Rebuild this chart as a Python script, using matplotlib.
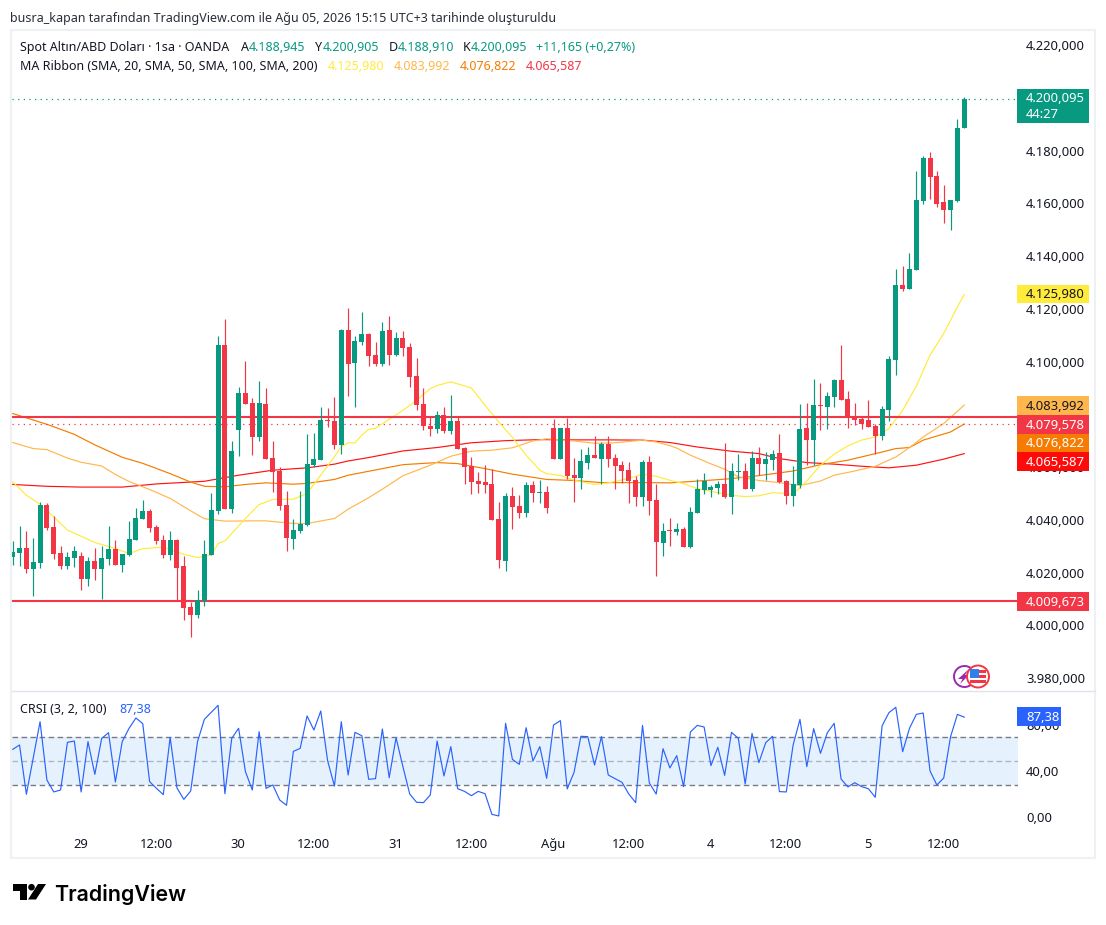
import matplotlib
matplotlib.use("Agg")
import matplotlib.pyplot as plt
import numpy as np
from matplotlib.patches import Circle, Polygon, Rectangle
from matplotlib.transforms import Affine2D, ScaledTranslation

W, H = 1106, 925
FONT = "Noto Sans"

# hourly candles
bar_open = [
    4026.5, 4028.0, 4029.8, 4021.9, 4024.2, 4046.0, 4037.7, 4027.9, 4022.9, 4026.0,
    4026.7, 4018.0, 4024.8, 4021.8, 4025.6, 4029.4, 4023.3, 4027.1, 4032.8, 4040.7,
    4043.8, 4037.7, 4032.8, 4027.1, 4032.8, 4022.9, 4007.4, 4004.4, 4009.7, 4027.1,
    4043.8, 4106.7, 4044.5, 4074.5, 4088.5, 4084.7, 4071.8, 4084.3, 4063.8, 4058.9,
    4046.0, 4033.2, 4036.2, 4038.5, 4061.2, 4063.1, 4078.2, 4077.9, 4068.8, 4112.3,
    4099.8, 4107.8, 4110.8, 4102.9, 4099.5, 4112.3, 4102.9, 4109.3, 4105.9, 4094.9,
    4084.3, 4076.0, 4074.8, 4080.1, 4074.1, 4077.9, 4067.6, 4060.8, 4055.1, 4054.8,
    4054.0, 4040.7, 4024.8, 4049.5, 4045.7, 4043.0, 4053.6, 4050.6, 4051.0, 4075.2,
    4063.5, 4075.2, 4057.4, 4056.3, 4061.9, 4065.0, 4063.5, 4069.1, 4063.8, 4061.2,
    4059.3, 4055.5, 4049.1, 4062.3, 4047.9, 4031.7, 4036.6, 4035.8, 4036.9, 4030.2,
    4043.0, 4051.7, 4051.7, 4052.5, 4054.0, 4049.1, 4058.5, 4058.9, 4052.1, 4063.8,
    4061.6, 4063.1, 4065.7, 4055.1, 4049.4, 4053.6, 4075.2, 4070.7, 4083.9, 4083.2,
    4087.0, 4093.4, 4086.2, 4079.8, 4078.6, 4078.2, 4076.0, 4072.2, 4082.0, 4101.0,
    4129.4, 4127.9, 4135.1, 4161.2, 4177.5, 4170.7, 4160.8, 4157.8, 4161.2, 4188.945,
]
bar_high = [
    4032.5, 4038.1, 4036.2, 4033.6, 4047.2, 4046.8, 4041.9, 4030.5, 4028.2, 4030.5,
    4028.2, 4026.4, 4029.8, 4030.5, 4038.1, 4032.8, 4027.5, 4040.0, 4044.9, 4047.9,
    4044.5, 4038.5, 4034.7, 4036.2, 4033.2, 4026.7, 4009.3, 4013.9, 4032.8, 4050.6,
    4110.1, 4116.5, 4070.3, 4090.7, 4100.6, 4086.6, 4093.0, 4090.4, 4070.3, 4060.4,
    4051.4, 4040.7, 4051.4, 4072.9, 4073.3, 4083.2, 4082.8, 4087.0, 4112.7, 4120.7,
    4110.1, 4119.2, 4111.2, 4107.8, 4115.4, 4117.6, 4111.6, 4112.0, 4107.4, 4101.7,
    4090.4, 4079.8, 4081.7, 4083.2, 4087.7, 4079.8, 4068.0, 4064.2, 4058.5, 4061.2,
    4059.7, 4047.2, 4050.6, 4052.9, 4049.8, 4054.8, 4055.1, 4055.5, 4053.2, 4078.6,
    4075.2, 4079.0, 4063.8, 4067.3, 4068.0, 4072.2, 4069.9, 4072.2, 4065.4, 4062.7,
    4062.3, 4057.0, 4063.1, 4064.6, 4054.0, 4039.2, 4041.1, 4039.2, 4037.7, 4045.3,
    4055.9, 4058.2, 4053.6, 4055.1, 4069.5, 4061.9, 4065.4, 4061.9, 4066.5, 4068.0,
    4066.1, 4066.9, 4072.9, 4055.5, 4060.8, 4084.4, 4084.7, 4093.8, 4092.3, 4088.8,
    4093.8, 4106.6, 4089.2, 4084.7, 4079.8, 4085.8, 4077.0, 4083.6, 4102.5, 4135.4,
    4136.6, 4141.5, 4172.9, 4178.6, 4179.8, 4172.6, 4167.3, 4161.6, 4192.6, 4200.905,
]
bar_low = [
    4023.3, 4023.1, 4020.4, 4011.7, 4022.3, 4036.7, 4025.6, 4021.9, 4021.9, 4022.6,
    4013.9, 4015.4, 4017.6, 4010.4, 4023.3, 4023.3, 4020.7, 4026.7, 4032.8, 4040.7,
    4035.8, 4031.3, 4026.0, 4025.2, 4010.1, 4002.5, 3996.1, 4003.2, 4007.8, 4027.1,
    4042.6, 4044.5, 4043.0, 4064.6, 4084.3, 4065.0, 4070.3, 4063.5, 4051.0, 4044.2,
    4028.6, 4029.4, 4035.4, 4038.1, 4060.4, 4063.1, 4075.6, 4067.3, 4065.4, 4087.3,
    4083.2, 4106.7, 4098.7, 4098.7, 4098.7, 4099.1, 4102.5, 4102.5, 4090.7, 4082.0,
    4074.5, 4072.2, 4073.3, 4073.3, 4072.9, 4067.3, 4054.0, 4050.2, 4050.6, 4050.6,
    4040.4, 4022.2, 4021.0, 4037.0, 4041.1, 4041.5, 4047.2, 4046.8, 4043.0, 4063.5,
    4063.5, 4055.9, 4047.2, 4052.1, 4059.7, 4063.8, 4054.0, 4060.4, 4052.1, 4054.4,
    4046.8, 4045.7, 4045.7, 4042.3, 4019.1, 4026.7, 4030.5, 4034.7, 4030.2, 4029.8,
    4043.0, 4050.2, 4049.1, 4050.2, 4048.7, 4042.6, 4055.5, 4052.1, 4051.3, 4057.4,
    4055.5, 4059.3, 4054.4, 4046.4, 4045.7, 4052.5, 4061.2, 4061.2, 4074.5, 4074.8,
    4083.2, 4085.8, 4075.2, 4076.3, 4074.8, 4075.6, 4065.4, 4070.7, 4077.9, 4095.3,
    4127.1, 4127.9, 4135.1, 4160.4, 4162.3, 4158.9, 4153.2, 4150.2, 4160.8, 4188.91,
]
bar_close = [
    4028.2, 4029.8, 4021.9, 4024.5, 4046.0, 4037.3, 4027.5, 4022.9, 4026.4, 4028.6,
    4018.0, 4024.8, 4021.8, 4026.0, 4029.4, 4023.3, 4027.5, 4033.2, 4041.1, 4043.8,
    4037.3, 4032.4, 4027.1, 4032.8, 4022.2, 4007.0, 4004.4, 4010.1, 4027.5, 4044.2,
    4106.7, 4044.5, 4066.5, 4088.5, 4084.3, 4071.8, 4084.7, 4063.5, 4058.5, 4045.7,
    4033.6, 4036.6, 4038.9, 4061.6, 4063.5, 4078.2, 4077.9, 4068.8, 4112.3, 4099.5,
    4108.2, 4110.8, 4102.5, 4099.5, 4112.0, 4102.9, 4109.3, 4105.5, 4094.5, 4083.9,
    4076.0, 4074.8, 4080.1, 4074.1, 4077.9, 4067.3, 4060.4, 4054.8, 4054.0, 4053.6,
    4040.4, 4025.2, 4049.5, 4045.3, 4043.0, 4053.6, 4050.6, 4051.0, 4044.9, 4063.5,
    4075.2, 4057.0, 4056.3, 4062.7, 4065.0, 4063.8, 4069.1, 4063.5, 4060.8, 4058.9,
    4055.1, 4049.1, 4062.3, 4047.6, 4032.0, 4036.2, 4036.2, 4037.0, 4030.2, 4043.4,
    4052.1, 4055.1, 4052.9, 4054.0, 4049.1, 4058.9, 4058.9, 4052.1, 4063.8, 4061.6,
    4063.5, 4065.4, 4054.8, 4049.4, 4054.0, 4074.8, 4070.7, 4083.9, 4083.6, 4087.3,
    4093.4, 4085.8, 4079.8, 4078.2, 4076.7, 4075.6, 4072.2, 4082.4, 4101.3, 4129.4,
    4127.9, 4135.4, 4161.6, 4177.5, 4170.3, 4160.1, 4157.8, 4161.6, 4188.9, 4200.095,
]

# MA Ribbon lines, sampled where the curves bend
ma20_bars = [0, 2, 4, 6, 8, 12, 15, 17, 19, 22, 25, 27, 29, 30, 31, 34, 36, 38, 41, 43, 46, 48, 49,
             50, 51, 52, 53, 55, 57, 59, 61, 62, 64, 67, 69, 71, 73, 75, 77, 78, 80, 82, 85, 87, 90,
             92, 94, 96, 98, 100, 103, 105, 107, 109, 111, 113, 114, 116, 118, 120, 122, 124, 126,
             128, 130, 132, 134, 136, 138, 139]
ma20 = [4054.9, 4049.8, 4046.4, 4041.6, 4036.6, 4031.9, 4029.6, 4027.7, 4029.6, 4030.1, 4027.4, 4026.2,
        4027.1, 4031.5, 4032.5, 4041.0, 4046.3, 4048.2, 4048.3, 4050.5, 4060.9, 4068.1, 4069.7,
        4069.7, 4072.6, 4074.8, 4075.2, 4078.6, 4082.0, 4085.8, 4090.2, 4091.4, 4092.8, 4090.5, 4083.9,
        4077.6, 4071.7, 4065.0, 4059.3, 4058.0, 4057.3, 4055.5, 4053.9, 4054.5, 4056.2,
        4057.8, 4057.0, 4055.5, 4054.2, 4052.3, 4050.8, 4049.8, 4049.3, 4049.6, 4050.8, 4050.4, 4050.2,
        4055.2, 4061.2, 4065.4, 4068.5, 4070.7, 4071.9, 4075.1, 4082.0, 4091.2, 4102.9, 4111.1, 4121.2,
        4125.98]
ma50_bars = [0, 3, 5, 8, 10, 13, 15, 17, 20, 23, 26, 28, 31, 35, 37, 41, 43, 47, 49, 52, 54, 57, 61,
             64, 67, 70, 73, 76, 78, 82, 85, 88, 92, 94, 96, 97, 99, 102, 104, 106, 109, 112, 115,
             118, 120, 123, 126, 129, 131, 133, 136, 139]
ma50 = [4069.8, 4067.5, 4067.1, 4063.9, 4062.3, 4060.9, 4057.7, 4055.0, 4052.0, 4048.6, 4043.9, 4040.9,
        4040.0, 4040.1, 4040.1, 4039.1, 4039.1, 4041.0, 4044.5, 4048.9, 4052.1, 4057.2, 4061.2,
        4064.6, 4066.5, 4066.9, 4067.8, 4070.4, 4071.2, 4070.4, 4069.5, 4069.7, 4070.7, 4070.0, 4068.6,
        4067.7, 4065.0, 4061.7, 4059.7, 4056.8, 4055.4, 4054.6, 4053.5, 4055.2, 4057.4, 4059.0, 4060.8,
        4064.3, 4067.9, 4071.9, 4077.0, 4083.992]
ma100_bars = [0, 5, 9, 12, 16, 19, 23, 26, 28, 31, 34, 37, 41, 43, 47, 49, 52, 54, 57, 62, 65, 69, 73,
              78, 82, 86, 92, 96, 99, 104, 108, 114, 118, 122, 127, 129, 131, 133, 137, 139]
ma100 = [4080.8, 4076.7, 4072.9, 4068.9, 4064.2, 4061.9, 4058.0, 4054.8, 4053.2, 4053.0, 4053.9, 4054.5,
         4054.0, 4054.3, 4055.8, 4057.4, 4058.9, 4059.9, 4061.4, 4062.2, 4061.8, 4059.9, 4057.8,
         4055.8, 4055.4, 4054.6, 4054.6, 4054.5, 4055.0, 4055.9, 4056.9, 4059.0, 4061.4, 4063.1,
         4066.2, 4067.5, 4067.9, 4070.7, 4073.8, 4076.822]
ma200_bars = [0, 5, 10, 16, 21, 28, 33, 38, 43, 47, 49, 52, 57, 62, 67, 72, 77, 82, 87, 92, 96, 100,
              105, 109, 112, 116, 120, 124, 128, 132, 136, 139]
ma200 = [4053.9, 4053.2, 4052.9, 4052.9, 4054.1, 4055.1, 4057.4, 4059.3, 4060.2, 4061.6, 4062.8, 4064.1,
         4066.6, 4067.9, 4069.7, 4070.5, 4070.9, 4070.8, 4070.8, 4070.7, 4069.8, 4068.1,
         4066.5, 4065.6, 4063.7, 4062.2, 4061.6, 4060.8, 4060.2, 4061.2, 4063.5, 4065.587]

crsi = [
    59.6, 63.4, 20.9, 52.2, 83.5, 33.2, 22.9, 24.6, 65.7, 66.8,
    22.9, 66.3, 38.1, 69.1, 74.0, 31.5, 66.3, 77.8, 86.7, 81.8,
    31.8, 26.0, 20.6, 70.0, 26.3, 16.5, 23.7, 66.3, 85.5, 91.5,
    97.6, 21.4, 69.1, 77.8, 40.4, 24.6, 74.9, 26.0, 28.9, 16.0,
    11.4, 57.9, 60.5, 88.4, 76.3, 92.7, 49.9, 28.0, 83.5, 37.5,
    74.3, 71.4, 33.8, 34.4, 77.2, 35.2, 69.7, 44.7, 21.1, 14.0,
    13.7, 20.3, 66.8, 36.7, 62.0, 25.7, 23.4, 19.7, 23.4, 21.4,
    3.6, 2.2, 82.1, 51.0, 46.7, 78.3, 49.6, 62.0, 34.7, 80.6,
    84.4, 25.5, 39.8, 70.9, 70.6, 46.1, 70.6, 37.5, 34.4, 31.2,
    21.1, 13.7, 80.3, 30.6, 21.1, 60.2, 43.6, 54.2, 27.5, 74.6,
    80.3, 78.9, 45.6, 61.4, 37.2, 74.3, 69.1, 29.8, 73.4, 48.2,
    65.4, 70.9, 23.2, 22.9, 63.4, 85.5, 44.7, 77.5, 56.2, 74.0,
    82.1, 34.1, 27.2, 30.9, 27.5, 25.7, 18.3, 80.0, 91.3, 95.9,
    57.6, 77.8, 89.8, 91.0, 41.0, 28.9, 34.9, 70.6, 89.8, 87.38,
]

support = 4009.673
resistance = 4079.578
last_price = 4200.095
prev_line = 4076.9

price_ticks = list(range(3980, 4221, 20))
time_bars = [10, 21, 33, 44, 56, 67, 79, 90, 102, 113, 125, 136]
time_labels = ["29", "12:00", "30", "12:00", "31", "12:00", "Ağu", "12:00", "4", "12:00", "5", "12:00"]

GREEN = "#089981"
RED = "#F23645"
INK = "#131722"
AXIS_SIZE = 9.35
TEXT_SIZE = 9.0

plt.rcParams["font.family"] = FONT
fig = plt.figure(figsize=(W / 100, H / 100), dpi=100, facecolor="white")
# pixel coordinates measured from the top left, like the screenshot
px = Affine2D().scale(1, -1).translate(0, H)
up_1px = ScaledTranslation(0, 1.2 / 100, fig.dpi_scale_trans)


def pane(left, top, right, bottom):
    return fig.add_axes([left / W, 1 - bottom / H, (right - left) / W, (bottom - top) / H])


def fmt_price(v):
    return f"{int(v) // 1000}.{int(v) % 1000:03d},{f'{v:.3f}'[-3:]}"


# main pane
ax = pane(12, 31, 1018, 691)
ax.set_xlim(-0.1, 146.85)
ax.set_ylim(3975.6, 4225.8)
ax.set_xticks([])
ax.set_yticks(price_ticks)
ax.set_yticklabels([f"{t // 1000}.{t % 1000:03d},000" for t in price_ticks])
ax.yaxis.tick_right()
ax.tick_params(axis="y", length=0, pad=5.8, labelsize=AXIS_SIZE, labelcolor=INK)
for s in ax.spines.values():
    s.set_visible(False)

x = np.arange(len(bar_open))
o = np.array(bar_open)
h = np.array(bar_high)
l = np.array(bar_low)
c = np.array(bar_close)
cols = [GREEN if b >= a else RED for a, b in zip(o, c)]

ax.plot(ma200_bars, ma200, color="#FF1111", lw=0.85, zorder=2)
ax.plot(ma100_bars, ma100, color="#F57C00", lw=0.85, zorder=2)
ax.plot(ma50_bars, ma50, color="#FFB74D", lw=0.85, zorder=2)
ax.plot(ma20_bars, ma20, color="#FFEB3B", lw=0.85, zorder=2)

ax.axhline(resistance, color=RED, lw=1.5, zorder=2.2)
ax.axhline(support, color=RED, lw=1.5, zorder=2.2)
ax.axhline(last_price, color=GREEN, lw=0.9, ls=(0, (1, 3.5)), zorder=2.2)
ax.axhline(prev_line, color=RED, lw=0.9, ls=(0, (1, 3.5)), zorder=2.2)

ax.vlines(x, l, h, colors=cols, lw=0.85, zorder=3)
ax.bar(x, np.maximum(np.abs(c - o), 0.4), bottom=np.minimum(o, c), width=0.73, color=cols, lw=0, zorder=3.1)

# CRSI pane
ax2 = pane(12, 692, 1018, 825)
ax2.set_xlim(-0.1, 146.85)
ax2.set_ylim(-5.6, 109.1)
ax2.axhspan(29, 70, color="#E5F2FD", lw=0)
ax2.axhline(70, color="#787B86", lw=1.0, ls=(0, (4, 2.5)))
ax2.axhline(29, color="#787B86", lw=1.0, ls=(0, (4, 2.5)))
ax2.axhline(50, color="#787B86", lw=1.0, ls=(0, (4, 2.5)), alpha=0.5)
ax2.plot(x, crsi, color="#2962FF", lw=0.85)
ax2.set_yticks([0, 40, 80])
ax2.set_yticklabels(["0,00", "40,00", "80,00"])
ax2.yaxis.tick_right()
ax2.tick_params(axis="y", length=0, pad=5.8, labelsize=AXIS_SIZE, labelcolor=INK)
ax2.set_xticks([t - 0.05 for t in time_bars])
ax2.set_xticklabels(time_labels)
ax2.tick_params(axis="x", length=0, pad=9.5, labelsize=AXIS_SIZE, labelcolor=INK)
for lab, name in zip(ax2.get_xticklabels(), time_labels):
    if name == "Ağu":
        lab.set_fontweight("bold")
for s in ax2.spines.values():
    s.set_visible(False)

# price labels sit a touch higher in the reference
for a in (ax, ax2):
    for t in a.yaxis.get_major_ticks():
        t.label2.set_transform(t.label2.get_transform() + up_1px)


def tag(label, top, bottom, color, text_color="white", right=1089, left=1017):
    fig.add_artist(Rectangle((left, top), right - left, bottom - top, transform=px, facecolor=color, lw=0, zorder=5))
    fig.text(1026, (top + bottom) / 2 - 0.5, label, transform=px, color=text_color, fontsize=AXIS_SIZE,
             va="center_baseline", ha="left", zorder=6)


# frame and pane separator
fig.add_artist(Rectangle((11, 30), 1084, 828, transform=px, fill=False, edgecolor="#EFF0F3", lw=1.5, zorder=1))
fig.add_artist(plt.Line2D([12, 1095], [691, 691], transform=px, color="#E0E3EB", lw=1.0, zorder=1))

fig.add_artist(Rectangle((1017, 89), 72, 34, transform=px, facecolor=GREEN, lw=0, zorder=5))
fig.text(1026, 97.5, fmt_price(last_price), transform=px, color="white", fontsize=AXIS_SIZE, va="center_baseline", zorder=6)
fig.text(1026, 113, "44:27", transform=px, color="white", fontsize=AXIS_SIZE, va="center_baseline", zorder=6)
tag(fmt_price(ma20[-1]), 285, 303, "#FFEB3B", INK)
tag(fmt_price(ma50[-1]), 396, 415, "#FFB74D", INK)
tag(fmt_price(resistance), 415, 433.5, RED)
tag(fmt_price(ma100[-1]), 433.5, 452, "#F57C00")
tag(fmt_price(ma200[-1]), 452, 471, "#FF0A0A")
tag(fmt_price(support), 592, 610.5, RED)
tag("87,38", 707, 726, "#2962FF", right=1061)

# header and legend text
fig.text(10, 17, "busra_kapan tarafından TradingView.com ile Ağu 05, 2026 15:15 UTC+3 tarihinde oluşturuldu",
         transform=px, color="#2A2E39", fontsize=TEXT_SIZE, va="center_baseline")


def row(y, items):
    for left, label, color in items:
        fig.text(left, y, label, transform=px, color=color, fontsize=TEXT_SIZE, va="center_baseline", zorder=6)


row(46, [(20, "Spot Altın/ABD Doları · 1sa · OANDA", INK),
         (241, "A", INK), (249, "4.188,945", GREEN),
         (315, "Y", INK), (323, "4.200,905", GREEN),
         (389, "D", INK), (398, "4.188,910", GREEN),
         (463, "K", INK), (471, "4.200,095", GREEN),
         (536, "+11,165 (+0,27%)", GREEN)])
row(65, [(20, "MA Ribbon (SMA, 20, SMA, 50, SMA, 100, SMA, 200)", INK),
         (328, "4.125,980", "#FFEB3B"), (394, "4.083,992", "#FFB74D"),
         (460, "4.076,822", "#F57C00"), (526, "4.065,587", RED)])
row(708, [(20, "CRSI (3, 2, 100)", INK), (119, "87,38", "#2962FF")])

# event icons above the price axis
fig.add_artist(Circle((964.5, 676.5), 10.5, transform=px, facecolor="white", edgecolor="#9C27B0", lw=1.4, zorder=4))
fig.add_artist(Polygon([(969, 669), (958, 679), (962.5, 679), (960, 684), (969, 675), (965, 675)],
                       transform=px, facecolor="#9C27B0", lw=0, zorder=4))
fig.add_artist(Circle((978, 676.5), 11, transform=px, facecolor="white", edgecolor=RED, lw=1.4, zorder=4))
fig.add_artist(Rectangle((970, 680), 16, 3, transform=px, facecolor=RED, lw=0, zorder=4.1))
fig.add_artist(Rectangle((972, 670), 14, 2.5, transform=px, facecolor=RED, lw=0, zorder=4.1))
fig.add_artist(Rectangle((972, 675), 14, 2.5, transform=px, facecolor=RED, lw=0, zorder=4.1))
fig.add_artist(Rectangle((970, 669), 9, 9, transform=px, facecolor="#2F80ED", lw=0, zorder=4.2))

# logo
fig.add_artist(Polygon([(13, 884), (27, 884), (27, 899.5), (20, 899.5), (20, 890.5), (13, 890.5)],
                       transform=px, facecolor="black", lw=0))
fig.add_artist(Circle((31.5, 887.2), 3.3, transform=px, facecolor="black", lw=0))
fig.add_artist(Polygon([(38, 884), (46, 884), (36, 899.5), (28, 899.5)], transform=px, facecolor="black", lw=0))
fig.text(54, 892.5, "TradingView", transform=px, family="Inter", weight=600, fontsize=15.4, color="black",
         va="center_baseline")

fig.savefig("out.png", dpi=100)
